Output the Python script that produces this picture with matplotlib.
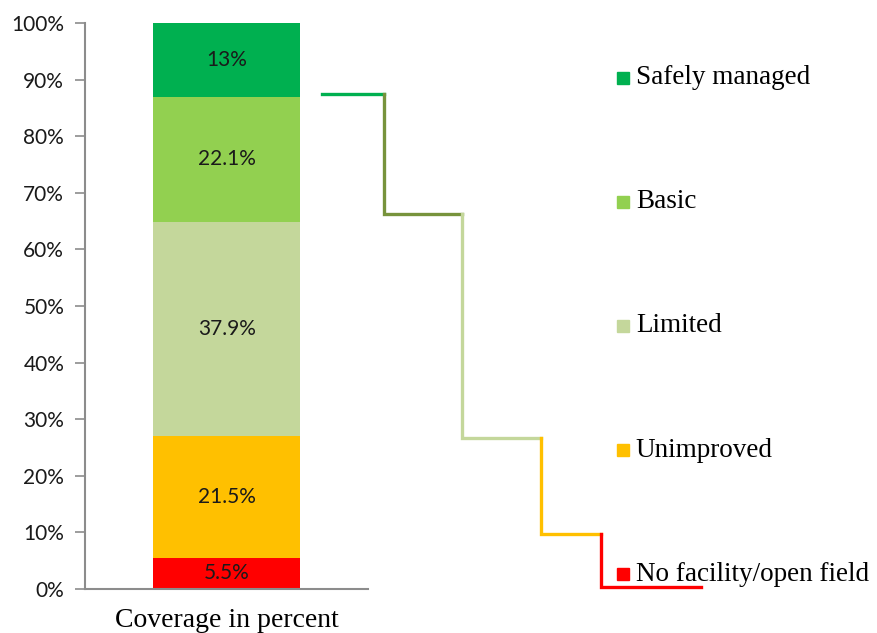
import matplotlib
matplotlib.use('Agg')
import matplotlib.pyplot as plt
from matplotlib.ticker import PercentFormatter

categories = ['No facility/open field', 'Unimproved', 'Limited', 'Basic', 'Safely managed']
shares     = [5.5, 21.5, 37.9, 22.1, 13.0]
share_text = ['5.5%', '21.5%', '37.9%', '22.1%', '13%']
colors     = ['#FF0000', '#FFC000', '#C4D79B', '#92D050', '#00B050']

# step ladder to the right (top to bottom)
step_levels = [87.5, 66.3, 26.7, 9.7, 0.3]
step_colors = ['#00B050', '#77933C', '#C4D79B', '#FFC000', '#FF0000']
step_x      = [0.837, 1.057, 1.332, 1.608, 1.820, 2.173]

SANS  = ['Lato', 'DejaVu Sans']
SERIF = ['Liberation Serif', 'DejaVu Serif']
AXIS_GREY = '#8C8C8C'

fig = plt.figure(figsize=(8.77, 6.33), dpi=100)
ax = fig.add_axes([0.097, 0.0695, 0.323, 0.894])

bottom = 0
for val, txt, col in zip(shares, share_text, colors):
    ax.bar(0.5, val, width=0.52, bottom=bottom, color=col, edgecolor='none')
    ax.text(0.5, bottom + val / 2, txt, ha='center', va='center',
            fontsize=15, family=SANS, color='#1a1a1a')
    bottom += val

# stepped connector
prev = None
for i, (lvl, col) in enumerate(zip(step_levels, step_colors)):
    x0, x1 = step_x[i], step_x[i + 1]
    if prev is None:
        xs, ys = [x0, x1], [lvl, lvl]
    else:
        xs, ys = [x0, x0, x1], [prev, lvl, lvl]
    ax.plot(xs, ys, color=col, lw=2.4, clip_on=False, solid_joinstyle='miter')
    prev = lvl

ax.set_xlim(0, 1)
ax.set_ylim(0, 100)
ax.set_yticks(range(0, 101, 10))
ax.yaxis.set_major_formatter(PercentFormatter(decimals=0))
ax.set_xticks([])
for lab in ax.get_yticklabels():
    lab.set_family(SANS)
    lab.set_fontsize(15)
    lab.set_color('#1a1a1a')
ax.tick_params(axis='y', length=7, width=1.2, color=AXIS_GREY, pad=8)
for s in ['top', 'right']:
    ax.spines[s].set_visible(False)
for s in ['left', 'bottom']:
    ax.spines[s].set_color(AXIS_GREY)
    ax.spines[s].set_linewidth(1.5)
ax.set_xlabel('Coverage in percent', family=SERIF, fontsize=20, labelpad=14)

# legend, laid out by hand (top entry first)
leg_y = [0.877, 0.681, 0.485, 0.289, 0.093]
for y, name, col in zip(leg_y, categories[::-1], colors[::-1]):
    fig.add_artist(plt.Line2D([0.710], [y], marker='s', markersize=9,
                              color=col, linestyle='none',
                              transform=fig.transFigure))
    fig.text(0.725, y, name, family=SERIF, fontsize=19.5, va='center', ha='left')

fig.savefig('out.png', dpi=100)
